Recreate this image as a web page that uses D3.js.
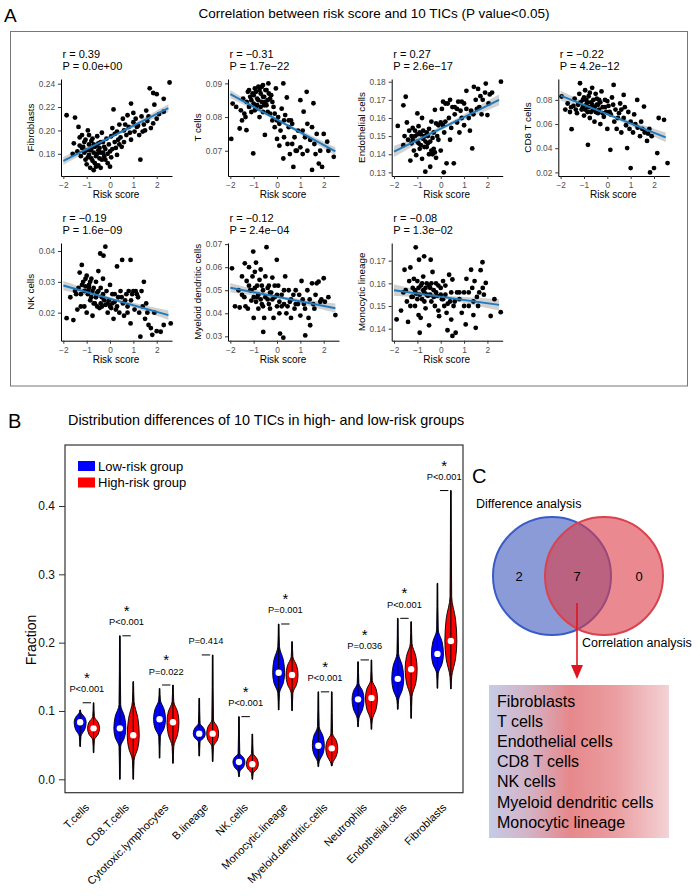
<!DOCTYPE html>
<html><head><meta charset="utf-8">
<script src="https://cdn.jsdelivr.net/npm/d3@7"></script>
<style>body{margin:0;background:#fff}svg{display:block}</style>
</head><body>
<script>
// ---------- DATA ----------
// Panel A: scatter points [risk score, fraction]
const fibroblastsPts = [[-1.86,0.213],[-1.55,0.189],[-1.5,0.211],[-1.4,0.182],[-1.35,0.203],[-1.3,0.194],[-1.25,0.178],[-1.2,0.196],[-1.15,0.186],[-1.1,0.190],[-1.05,0.175],[-1.0,0.183],[-1.0,0.171],[-0.95,0.200],[-0.9,0.179],[-0.9,0.188],[-0.85,0.168],[-0.8,0.184],[-0.8,0.176],[-0.75,0.193],[-0.7,0.166],[-0.7,0.181],[-0.65,0.172],[-0.6,0.187],[-0.6,0.178],[-0.55,0.195],[-0.5,0.170],[-0.5,0.183],[-0.45,0.176],[-0.4,0.190],[-0.4,0.168],[-0.35,0.198],[-0.3,0.181],[-0.25,0.186],[-0.2,0.175],[-0.15,0.193],[-0.1,0.180],[-0.05,0.188],[0.0,0.169],[0.05,0.195],[0.1,0.184],[0.1,0.202],[0.15,0.218],[0.2,0.190],[0.3,0.199],[0.3,0.179],[0.4,0.205],[0.45,0.194],[0.5,0.186],[0.55,0.210],[0.6,0.200],[0.7,0.196],[0.75,0.213],[0.8,0.203],[0.9,0.223],[0.9,0.192],[1.0,0.207],[1.05,0.199],[1.1,0.210],[1.2,0.204],[1.25,0.196],[1.3,0.175],[1.35,0.212],[1.45,0.205],[1.5,0.200],[1.55,0.217],[1.6,0.208],[1.7,0.236],[1.75,0.202],[1.85,0.232],[1.9,0.222],[2.0,0.231],[2.0,0.210],[2.1,0.214],[2.3,0.227],[2.3,0.216],[2.55,0.241],
 [-1.2,0.185],[-1.1,0.181],[-1.05,0.192],[-0.95,0.177],[-0.85,0.183],[-0.8,0.191],[-0.75,0.174],[-0.65,0.186],[-0.6,0.169],[-0.55,0.180],[-0.5,0.189],[-0.45,0.185],[-0.35,0.175],[-0.3,0.190],[-0.25,0.178],[-0.2,0.184],[-0.1,0.172],[0.0,0.182],[0.05,0.177],[0.2,0.197],[0.25,0.185],[0.35,0.192],[0.6,0.190],[0.65,0.205],[0.85,0.198],[1.0,0.215],[1.15,0.203],[1.4,0.199],[1.65,0.212],[1.85,0.206],[-1.6,0.180],[-1.3,0.187],[-0.9,0.196],[-0.7,0.188],[-0.4,0.181],[0.4,0.188]];
const tCellsPts = [[-1.96,0.0735],[-1.9,0.0840],[-1.75,0.0830],[-1.6,0.0766],[-1.55,0.0820],[-1.45,0.0855],[-1.4,0.0810],[-1.31,0.0761],[-1.3,0.0845],[-1.25,0.0875],[-1.2,0.0830],[-1.15,0.0860],[-1.1,0.0815],[-1.05,0.0870],[-1.02,0.0692],[-1.0,0.0840],[-0.95,0.0885],[-0.9,0.0825],[-0.85,0.0855],[-0.8,0.0890],[-0.75,0.0800],[-0.7,0.0870],[-0.65,0.0845],[-0.6,0.0895],[-0.6,0.0815],[-0.55,0.0860],[-0.52,0.0747],[-0.5,0.0880],[-0.45,0.0835],[-0.4,0.0850],[-0.37,0.0900],[-0.3,0.0810],[-0.25,0.0865],[-0.2,0.0790],[-0.15,0.0830],[-0.1,0.0770],[-0.05,0.0885],[0.0,0.0735],[0.05,0.0800],[0.1,0.0715],[0.15,0.0760],[0.2,0.0825],[0.27,0.0900],[0.27,0.0677],[0.3,0.0790],[0.35,0.0806],[0.42,0.0858],[0.45,0.0720],[0.5,0.0770],[0.55,0.0690],[0.6,0.0790],[0.65,0.0720],[0.7,0.0652],[0.75,0.0740],[0.8,0.0700],[0.9,0.0760],[1.0,0.0850],[1.0,0.0710],[1.1,0.0690],[1.14,0.0816],[1.2,0.0740],[1.27,0.0875],[1.3,0.0700],[1.42,0.0732],[1.5,0.0643],[1.5,0.0770],[1.56,0.0841],[1.6,0.0720],[1.7,0.0750],[1.79,0.0662],[1.85,0.0700],[1.93,0.0652],[2.0,0.0750],[2.15,0.0727],[2.43,0.0682],
 [-1.2,0.0880],[-1.1,0.0850],[-1.0,0.0865],[-0.95,0.0820],[-0.9,0.0875],[-0.85,0.0835],[-0.8,0.0850],[-0.75,0.0880],[-0.7,0.0830],[-0.65,0.0890],[-0.6,0.0860],[-0.55,0.0835],[-0.5,0.0845],[-0.45,0.0880],[-0.4,0.0815],[-0.35,0.0870],[-0.3,0.0855],[-0.2,0.0845],[-0.1,0.0810],[0.0,0.0790],[0.1,0.0780],[0.3,0.0740],[0.5,0.0790],[0.65,0.0780],[0.85,0.0700],[1.1,0.0760],[1.3,0.0780],[1.65,0.0690],[2.2,0.0700],[-1.35,0.0800],[-1.5,0.0790]];
const endothelialPts = [[-1.84,0.1556],[-1.6,0.1670],[-1.5,0.1717],[-1.45,0.1575],[-1.4,0.1480],[-1.35,0.1530],[-1.3,0.1365],[-1.25,0.1460],[-1.2,0.1545],[-1.15,0.1420],[-1.1,0.1500],[-1.05,0.1395],[-1.0,0.1625],[-1.0,0.1470],[-0.95,0.1555],[-0.9,0.1430],[-0.85,0.1510],[-0.8,0.1600],[-0.8,0.1375],[-0.75,0.1485],[-0.7,0.1440],[-0.66,0.1304],[-0.6,0.1520],[-0.55,0.1460],[-0.5,0.1400],[-0.45,0.1331],[-0.4,0.1580],[-0.35,0.1490],[-0.3,0.1430],[-0.25,0.1645],[-0.2,0.1380],[-0.15,0.1500],[-0.1,0.1560],[0.0,0.1575],[0.0,0.1420],[0.05,0.1650],[0.1,0.1690],[0.13,0.1300],[0.15,0.1520],[0.2,0.1580],[0.25,0.1350],[0.3,0.1680],[0.35,0.1600],[0.4,0.1480],[0.45,0.1545],[0.5,0.1660],[0.56,0.1350],[0.6,0.1620],[0.7,0.1575],[0.75,0.1690],[0.8,0.1520],[0.85,0.1640],[0.9,0.1600],[1.0,0.1680],[1.0,0.1560],[1.1,0.1650],[1.1,0.1750],[1.2,0.1600],[1.25,0.1530],[1.35,0.1432],[1.4,0.1620],[1.42,0.1772],[1.5,0.1700],[1.6,0.1760],[1.65,0.1660],[1.7,0.1720],[1.8,0.1700],[1.9,0.1740],[1.93,0.1790],[2.0,0.1616],[2.1,0.1730],[2.2,0.1740],[2.58,0.1800],
 [-1.25,0.1500],[-1.2,0.1480],[-1.1,0.1530],[-1.0,0.1510],[-0.95,0.1460],[-0.9,0.1520],[-0.85,0.1450],[-0.75,0.1530],[-0.7,0.1500],[-0.65,0.1470],[-0.6,0.1440],[-0.55,0.1500],[-0.5,0.1540],[-0.45,0.1470],[-0.4,0.1420],[-0.35,0.1400],[-0.3,0.1520],[-0.25,0.1410],[-0.2,0.1570],[-0.1,0.1480],[0.1,0.1560],[0.2,0.1680],[0.4,0.1700],[0.6,0.1660],[0.7,0.1650],[0.9,0.1690],[1.3,0.1640],[1.55,0.1650],[1.75,0.1620],[2.05,0.1680],[-1.6,0.1450],[-1.55,0.1500]];
const cd8Pts = [[-1.96,0.0828],[-1.8,0.0720],[-1.7,0.0770],[-1.6,0.0700],[-1.53,0.0558],[-1.45,0.0750],[-1.4,0.0810],[-1.3,0.0690],[-1.25,0.0760],[-1.2,0.0850],[-1.17,0.0938],[-1.1,0.0720],[-1.05,0.0800],[-1.0,0.0670],[-0.95,0.0880],[-0.9,0.0760],[-0.85,0.0700],[-0.83,0.0428],[-0.8,0.0830],[-0.75,0.0650],[-0.7,0.0780],[-0.65,0.0900],[-0.6,0.0720],[-0.55,0.0620],[-0.5,0.0850],[-0.45,0.0760],[-0.4,0.0690],[-0.35,0.0800],[-0.3,0.0600],[-0.25,0.0870],[-0.2,0.0740],[-0.15,0.0660],[-0.1,0.0800],[-0.05,0.0700],[0.0,0.0560],[0.05,0.0750],[0.13,0.0387],[0.15,0.0680],[0.2,0.0820],[0.27,0.0924],[0.3,0.0620],[0.35,0.0720],[0.4,0.0560],[0.5,0.0690],[0.55,0.0770],[0.6,0.0530],[0.7,0.0841],[0.7,0.0650],[0.8,0.0590],[0.85,0.0401],[0.9,0.0700],[1.0,0.0236],[1.0,0.0620],[1.1,0.0530],[1.15,0.0680],[1.28,0.0800],[1.3,0.0570],[1.4,0.0500],[1.45,0.0620],[1.57,0.0745],[1.6,0.0530],[1.7,0.0460],[1.8,0.0560],[1.83,0.0200],[1.9,0.0500],[2.0,0.0236],[2.14,0.0360],[2.2,0.0650],[2.43,0.0635],[2.58,0.0277],
 [-1.15,0.0780],[-1.05,0.0740],[-1.0,0.0820],[-0.95,0.0720],[-0.9,0.0800],[-0.85,0.0780],[-0.8,0.0740],[-0.75,0.0860],[-0.7,0.0700],[-0.65,0.0760],[-0.6,0.0800],[-0.55,0.0740],[-0.5,0.0700],[-0.45,0.0810],[-0.4,0.0760],[-0.35,0.0720],[-0.3,0.0780],[-0.2,0.0690],[-0.1,0.0740],[0.0,0.0790],[0.1,0.0700],[0.25,0.0760],[0.45,0.0650],[0.6,0.0720],[0.75,0.0740],[0.95,0.0560],[1.2,0.0600],[1.5,0.0560],[1.75,0.0520],[-1.35,0.0720],[-1.55,0.0740]];
const nkPts = [[-1.86,0.0182],[-1.7,0.0250],[-1.57,0.0176],[-1.5,0.0270],[-1.4,0.0210],[-1.35,0.0280],[-1.3,0.0330],[-1.25,0.0260],[-1.21,0.0355],[-1.15,0.0300],[-1.1,0.0220],[-1.05,0.0285],[-1.0,0.0320],[-1.0,0.0200],[-0.95,0.0270],[-0.9,0.0290],[-0.85,0.0240],[-0.8,0.0310],[-0.75,0.0190],[-0.7,0.0280],[-0.65,0.0230],[-0.6,0.0300],[-0.55,0.0265],[-0.5,0.0335],[-0.45,0.0215],[-0.42,0.0392],[-0.4,0.0280],[-0.35,0.0250],[-0.3,0.0310],[-0.28,0.0385],[-0.2,0.0414],[-0.2,0.0225],[-0.15,0.0270],[-0.1,0.0200],[-0.05,0.0240],[0.0,0.0290],[0.05,0.0215],[0.1,0.0260],[0.15,0.0180],[0.2,0.0235],[0.25,0.0210],[0.3,0.0350],[0.35,0.0250],[0.4,0.0200],[0.45,0.0270],[0.52,0.0371],[0.55,0.0230],[0.6,0.0190],[0.7,0.0260],[0.75,0.0220],[0.8,0.0270],[0.88,0.0371],[0.88,0.0165],[0.9,0.0240],[1.0,0.0270],[1.05,0.0210],[1.1,0.0270],[1.2,0.0250],[1.25,0.0200],[1.3,0.0122],[1.35,0.0270],[1.45,0.0300],[1.5,0.0180],[1.55,0.0230],[1.65,0.0160],[1.75,0.0150],[1.81,0.0128],[1.9,0.0200],[2.0,0.0140],[2.17,0.0138],[2.3,0.0160],[2.6,0.0165],
 [-1.2,0.0290],[-1.1,0.0270],[-1.05,0.0310],[-0.95,0.0260],[-0.9,0.0280],[-0.85,0.0300],[-0.8,0.0250],[-0.75,0.0270],[-0.7,0.0230],[-0.6,0.0250],[-0.55,0.0220],[-0.5,0.0270],[-0.4,0.0230],[-0.35,0.0220],[-0.3,0.0260],[-0.25,0.0240],[-0.1,0.0230],[0.0,0.0220],[0.1,0.0230],[0.2,0.0260],[0.3,0.0220],[0.5,0.0250],[0.65,0.0240],[0.95,0.0260],[1.15,0.0260],[1.4,0.0220],[1.6,0.0200],[-1.45,0.0260],[-1.25,0.0220],[0.75,0.0200]];
const myeloidPts = [[-1.93,0.0595],[-1.8,0.0430],[-1.65,0.0500],[-1.6,0.0425],[-1.5,0.0560],[-1.4,0.0470],[-1.38,0.0617],[-1.3,0.0540],[-1.25,0.0420],[-1.2,0.0600],[-1.15,0.0500],[-1.1,0.0455],[-1.05,0.0560],[-1.02,0.0668],[-1.0,0.0380],[-0.95,0.0510],[-0.9,0.0620],[-0.85,0.0470],[-0.8,0.0420],[-0.75,0.0545],[-0.7,0.0590],[-0.65,0.0440],[-0.6,0.0500],[-0.59,0.0319],[-0.55,0.0380],[-0.5,0.0560],[-0.45,0.0687],[-0.4,0.0460],[-0.35,0.0520],[-0.3,0.0420],[-0.25,0.0490],[-0.2,0.0555],[-0.15,0.0380],[-0.1,0.0470],[-0.01,0.0632],[0.0,0.0430],[0.05,0.0520],[0.1,0.0400],[0.13,0.0312],[0.2,0.0480],[0.27,0.0294],[0.3,0.0440],[0.35,0.0560],[0.4,0.0400],[0.5,0.0500],[0.55,0.0450],[0.6,0.0380],[0.7,0.0480],[0.75,0.0420],[0.8,0.0500],[0.9,0.0440],[1.0,0.0390],[1.05,0.0540],[1.1,0.0460],[1.2,0.0420],[1.21,0.0304],[1.3,0.0500],[1.35,0.0380],[1.42,0.0348],[1.5,0.0530],[1.55,0.0440],[1.65,0.0480],[1.7,0.0530],[1.78,0.0537],[1.85,0.0450],[2.0,0.0552],[2.05,0.0450],[2.2,0.0470],[2.5,0.0392],
 [-1.2,0.0520],[-1.1,0.0500],[-1.0,0.0470],[-0.9,0.0450],[-0.85,0.0520],[-0.8,0.0480],[-0.7,0.0460],[-0.65,0.0520],[-0.6,0.0430],[-0.5,0.0470],[-0.4,0.0510],[-0.35,0.0440],[-0.3,0.0490],[-0.2,0.0460],[-0.1,0.0520],[0.0,0.0480],[0.1,0.0450],[0.2,0.0430],[0.3,0.0500],[0.45,0.0430],[0.6,0.0460],[0.8,0.0440],[0.95,0.0480],[1.15,0.0440],[1.4,0.0460],[1.6,0.0420],[1.9,0.0460],[-1.5,0.0480],[-1.35,0.0430],[-0.95,0.0580]];
const monocyticPts = [[-1.89,0.1441],[-1.7,0.1480],[-1.6,0.1560],[-1.55,0.1660],[-1.45,0.1520],[-1.4,0.1430],[-1.35,0.1610],[-1.3,0.1670],[-1.25,0.1540],[-1.2,0.1580],[-1.15,0.1620],[-1.1,0.1500],[-1.07,0.1759],[-1.05,0.1555],[-1.0,0.1610],[-0.95,0.1460],[-0.93,0.1704],[-0.9,0.1382],[-0.86,0.1448],[-0.85,0.1590],[-0.8,0.1530],[-0.75,0.1630],[-0.71,0.1719],[-0.7,0.1560],[-0.65,0.1490],[-0.6,0.1600],[-0.55,0.1545],[-0.5,0.1415],[-0.45,0.1580],[-0.43,0.1704],[-0.4,0.1520],[-0.35,0.1650],[-0.3,0.1570],[-0.25,0.1500],[-0.2,0.1600],[-0.15,0.1545],[-0.1,0.1480],[-0.07,0.1455],[0.0,0.1580],[0.05,0.1530],[0.1,0.1610],[0.15,0.1500],[0.2,0.1550],[0.25,0.1470],[0.29,0.1393],[0.36,0.1638],[0.4,0.1520],[0.45,0.1440],[0.5,0.1368],[0.5,0.1617],[0.55,0.1500],[0.64,0.1382],[0.7,0.1560],[0.8,0.1530],[0.9,0.1470],[1.0,0.1560],[1.07,0.1419],[1.1,0.1620],[1.2,0.1500],[1.3,0.1660],[1.35,0.1580],[1.4,0.1460],[1.45,0.1610],[1.5,0.1404],[1.55,0.1540],[1.65,0.1560],[1.71,0.1658],[1.79,0.1693],[1.85,0.1550],[1.93,0.1602],[2.14,0.1456],[2.3,0.1530],[2.57,0.1473],
 [-1.2,0.1540],[-1.1,0.1570],[-1.0,0.1530],[-0.95,0.1580],[-0.9,0.1550],[-0.8,0.1600],[-0.75,0.1570],[-0.7,0.1520],[-0.65,0.1580],[-0.6,0.1550],[-0.5,0.1590],[-0.45,0.1550],[-0.4,0.1600],[-0.3,0.1540],[-0.2,0.1560],[-0.1,0.1590],[0.0,0.1550],[0.1,0.1530],[0.2,0.1590],[0.3,0.1510],[0.45,0.1560],[0.6,0.1520],[0.8,0.1560],[1.0,0.1500],[1.2,0.1560],[1.4,0.1520],[1.6,0.1500],[-1.5,0.1570],[-1.3,0.1500],[1.8,0.1580]];

const scatterNames = ["Fibroblasts","T cells","Endothelial cells","CD8 T cells","NK cells","Myeloid dendritic cells","Monocytic lineage"];
const scatterData = [fibroblastsPts, tCellsPts, endothelialPts, cd8Pts, nkPts, myeloidPts, monocyticPts];
const rValues = ["0.39","\u22120.31","0.27","\u22120.22","\u22120.19","\u22120.12","\u22120.08"];
const pValues = ["0.0e+00","1.7e\u221222","2.6e\u221217","4.2e\u221212","1.6e\u221209","2.4e\u221204","1.3e\u221202"];
const yDomains = [[0.161,0.244],[0.0625,0.0913],[0.128,0.1815],[0.017,0.0973],[0.0109,0.0426],[0.0281,0.0705],[0.1347,0.1778]];
const yTickVals = [[0.18,0.20,0.22,0.24],[0.07,0.08,0.09],[0.13,0.14,0.15,0.16,0.17,0.18],[0.02,0.04,0.06,0.08],[0.02,0.03,0.04],[0.03,0.04,0.05,0.06,0.07],[0.14,0.15,0.16,0.17]];
const xTickVals = [-2,-1,0,1,2];
// fitted line values at risk = -2 and 2.5, and CI half-width at the ends
const fitStart = [0.174,0.0868,0.1415,0.0835,0.0288,0.0511,0.157];
const fitEnd = [0.219,0.0698,0.170,0.049,0.0192,0.0422,0.1505];
const fitBand = [0.0035,0.0012,0.003,0.004,0.0015,0.002,0.0025];

// Panel B: violin summaries [min, bodyLow, median, bodyHigh, max]
const categories = ["T.cells","CD8.T.cells","Cytotoxic.lymphocytes","B.lineage","NK.cells","Monocytic.lineage","Myeloid.dendritic.cells","Neutrophils","Endothelial.cells","Fibroblasts"];
const lowRisk = [[0.048,0.063,0.0834,0.0976,0.1015],[0.0,0.048,0.0746,0.109,0.21],[0.031,0.0624,0.0878,0.116,0.133],[0.034,0.055,0.0668,0.082,0.1185],[0.0039,0.0112,0.0254,0.038,0.0917],[0.1015,0.126,0.156,0.194,0.2273],[0.0185,0.0258,0.0492,0.077,0.128],[0.077,0.089,0.117,0.1405,0.172],[0.1024,0.116,0.147,0.184,0.2356],[0.1333,0.155,0.1835,0.2185,0.2868]];
const highRisk = [[0.039,0.0576,0.0746,0.0917,0.112],[0.0,0.028,0.0644,0.1137,0.143],[0.0234,0.048,0.0834,0.1137,0.138],[0.0259,0.048,0.0668,0.0868,0.182],[0.0,0.0088,0.022,0.038,0.0663],[0.1005,0.126,0.1527,0.1795,0.2015],[0.0195,0.0234,0.0453,0.067,0.128],[0.0731,0.0868,0.119,0.145,0.1747],[0.0892,0.121,0.161,0.199,0.2307],[0.1323,0.150,0.2024,0.267,0.4226]];
const pLabels = ["P<0.001","P<0.001","P=0.022","P=0.414","P<0.001","P=0.001","P<0.001","P=0.036","P<0.001","P<0.001"];
const significant = [true,true,true,false,true,true,true,true,true,true];
const fractionTicks = [0.0,0.1,0.2,0.3,0.4];
const groupNames = ["Low-risk group","High-risk group"];

// Panel C
const vennCounts = [2,7,0];
const vennSets = ["Difference analysis","Correlation analysis"];
const overlapCells = ["Fibroblasts","T cells","Endothelial cells","CD8 T cells","NK cells","Myeloid dendritic cells","Monocytic lineage"];

// ---------- DRAW ----------
const FONT = "'Liberation Sans', Arial, Helvetica, sans-serif";
const svg = d3.select("body").append("svg").attr("width",700).attr("height",896)
  .style("font-family",FONT);

// ---- Panel A ----
svg.append("text").attr("x",4).attr("y",22).attr("font-size",19).text("A");
svg.append("text").attr("x",374).attr("y",18).attr("text-anchor","middle")
  .attr("font-size",13.5).text("Correlation between risk score and 10 TICs (P value<0.05)");
svg.append("rect").attr("x",10.5).attr("y",31.5).attr("width",677).attr("height",354.5)
  .attr("fill","none").attr("stroke","#777").attr("stroke-width",1);

const colX = [61,228,391.7,558.3];
const rowTop = [79,243], rowBot = [176,340.7];
scatterData.forEach((pts,i)=>{
  const col = i<4 ? i : i-4, row = i<4 ? 0 : 1;
  const x0 = colX[col], top = rowTop[row], bot = rowBot[row];
  const x = d3.scaleLinear().domain([-2.1,2.655]).range([x0,x0+111]);
  const y = d3.scaleLinear().domain(yDomains[i]).range([bot,top]);
  const g = svg.append("g");
  // CI band
  const xs = d3.range(-2,2.5001,0.1);
  const slope = (fitEnd[i]-fitStart[i])/4.5;
  const fit = v => fitStart[i] + slope*(v+2);
  const hw = v => fitBand[i]*(0.3+0.7*Math.abs(v-0.25)/2.25);
  g.append("path").datum(xs)
    .attr("d", d3.area().x(v=>x(v)).y0(v=>y(fit(v)-hw(v))).y1(v=>y(fit(v)+hw(v))))
    .attr("fill","#bdbdbd").attr("opacity",0.7);
  g.selectAll("circle").data(pts).join("circle")
    .attr("cx",d=>x(d[0])).attr("cy",d=>y(d[1])).attr("r",2.4).attr("fill","#000");
  g.append("line").attr("x1",x(-2)).attr("x2",x(2.5)).attr("y1",y(fitStart[i])).attr("y2",y(fitEnd[i]))
    .attr("stroke","#1f7bbf").attr("stroke-width",2);
  // axes
  const ax = g.append("g").attr("transform",`translate(0,${bot})`)
    .call(d3.axisBottom(x).tickValues(xTickVals).tickSize(3).tickSizeOuter(0).tickFormat(d3.format("d")));
  const ay = g.append("g").attr("transform",`translate(${x0},0)`)
    .call(d3.axisLeft(y).tickValues(yTickVals[i]).tickSize(3).tickSizeOuter(0).tickFormat(d3.format(".2f")));
  [ax,ay].forEach(a=>{
    a.select(".domain").attr("stroke","#000").attr("stroke-width",1);
    a.selectAll(".tick line").attr("stroke","#333");
    a.selectAll(".tick text").attr("fill","#4d4d4d").attr("font-size",8.3).attr("font-family",FONT);
  });
  g.append("text").attr("x",x0+55).attr("y",bot+22).attr("text-anchor","middle").attr("font-size",10).text("Risk score");
  g.append("text").attr("transform",`translate(${x0-27},${(top+bot)/2}) rotate(-90)`)
    .attr("text-anchor","middle").attr("font-size",9.8).text(scatterNames[i]);
  g.append("text").attr("x",x0+1.5).attr("y",top-21.5).attr("font-size",11).text("r = "+rValues[i]);
  g.append("text").attr("x",x0+1.5).attr("y",top-9.5).attr("font-size",11).text("P = "+pValues[i]);
});

// ---- Panel B ----
svg.append("text").attr("x",8).attr("y",428).attr("font-size",20).text("B");
svg.append("text").attr("x",68).attr("y",425).attr("font-size",14.4).text("Distribution differences of 10 TICs in high- and low-risk groups");
const bx0 = 65, bx1 = 463, by0 = 445, by1 = 792.7;
svg.append("rect").attr("x",bx0).attr("y",by0).attr("width",bx1-bx0).attr("height",by1-by0)
  .attr("fill","none").attr("stroke","#333").attr("stroke-width",1.2);
const yB = d3.scaleLinear().domain([0,0.4]).range([779.3,506]);
const xB = d3.scaleBand().domain(categories).range([67,464]).padding(0);
const ayB = svg.append("g").attr("transform",`translate(${bx0},0)`)
  .call(d3.axisLeft(yB).tickValues(fractionTicks).tickSize(6).tickSizeOuter(0).tickFormat(d3.format(".1f")));
ayB.select(".domain").remove();
ayB.selectAll(".tick line").attr("stroke","#333");
ayB.selectAll(".tick text").attr("font-size",12).attr("fill","#111").attr("x",-10);
svg.append("text").attr("transform","translate(36,640) rotate(-90)").attr("text-anchor","middle")
  .attr("font-size",14).text("Fraction");

// legend
[["#0000ff",groupNames[0]],["#ff0000",groupNames[1]]].forEach((d,k)=>{
  svg.append("rect").attr("x",78).attr("y",461+k*16.5).attr("width",17).attr("height",10).attr("fill",d[0]);
  svg.append("text").attr("x",98).attr("y",470.5+k*16.5).attr("font-size",13).text(d[1]);
});

const violin = (stats, cx, hwMax, color) => {
  const [mn, lo, med, hi, mx] = stats;
  const st = [[mn,0.3],[lo,0.14*hwMax],[(lo+med)/2,0.78*hwMax],[med,hwMax],[(med+hi)/2,0.78*hwMax],[hi,0.14*hwMax],[mx,0.3]];
  const g = svg.append("g");
  g.append("path").datum(st)
    .attr("d", d3.area().curve(d3.curveMonotoneY).y(d=>yB(d[0])).x0(d=>cx-d[1]).x1(d=>cx+d[1]))
    .attr("fill",color).attr("stroke","#000").attr("stroke-width",0.9);
  g.append("line").attr("x1",cx).attr("x2",cx).attr("y1",yB(mn)).attr("y2",yB(mx))
    .attr("stroke","#000").attr("stroke-width",1.1);
  g.append("circle").attr("cx",cx).attr("cy",yB(med)).attr("r",3.2).attr("fill","#fff");
};
categories.forEach((c,i)=>{
  const cx = xB(c)+xB.bandwidth()/2;
  const cl = cx-6.7, ch = cx+6.7;
  violin(lowRisk[i], cl, 6, "#0000ff");
  violin(highRisk[i], ch, 6, "#ff0000");
  const top = Math.max(lowRisk[i][4], highRisk[i][4]);
  const ty = yB(top);
  svg.append("line").attr("x1",cl+2.5).attr("x2",ch-2.5).attr("y1",ty).attr("y2",ty)
    .attr("stroke","#000").attr("stroke-width",1);
  svg.append("text").attr("x",cx).attr("y",ty-10.5).attr("text-anchor","middle")
    .attr("font-size",9.3).text(pLabels[i]);
  if (significant[i]) svg.append("text").attr("x",cx).attr("y",ty-20).attr("text-anchor","middle")
    .attr("font-size",15).text("*");
  svg.append("text").attr("transform",`translate(${cx+3},${808}) rotate(-45)`)
    .attr("text-anchor","end").attr("font-size",11).text(c);
});

// ---- Panel C ----
svg.append("text").attr("x",472).attr("y",483).attr("font-size",20).text("C");
svg.append("text").attr("x",476).attr("y",508).attr("font-size",12.5).text(vennSets[0]);
const defs = svg.append("defs");
const grad = defs.append("linearGradient").attr("id","boxgrad").attr("x1","0").attr("x2","1").attr("y1","0").attr("y2","0");
[[0,"#c6cbe6"],[0.22,"#d3b3c6"],[0.45,"#e6888b"],[0.7,"#eb9da0"],[1,"#f3d2d5"]].forEach(s=>
  grad.append("stop").attr("offset",s[0]).attr("stop-color",s[1]));
svg.append("circle").attr("cx",552).attr("cy",576).attr("r",59)
  .attr("fill","#3c58bc").attr("fill-opacity",0.6).attr("stroke","#3a5cc8").attr("stroke-width",2);
svg.append("circle").attr("cx",604).attr("cy",576).attr("r",59)
  .attr("fill","#dc3c46").attr("fill-opacity",0.6).attr("stroke","#d9434e").attr("stroke-width",2);
[519,577,639].forEach((xx,k)=>svg.append("text").attr("x",xx).attr("y",581).attr("text-anchor","middle")
  .attr("font-size",13).text(vennCounts[k]));
svg.append("line").attr("x1",577).attr("x2",577).attr("y1",603).attr("y2",668)
  .attr("stroke","#e0141e").attr("stroke-width",1.6);
svg.append("path").attr("d","M571,665 L583,665 L577,679 Z").attr("fill","#e0141e");
svg.append("text").attr("x",582).attr("y",647).attr("font-size",12.5).text(vennSets[1]);
svg.append("rect").attr("x",489).attr("y",685).attr("width",180).attr("height",153).attr("fill","url(#boxgrad)");
overlapCells.forEach((t,k)=>svg.append("text").attr("x",497).attr("y",707+k*20.1)
  .attr("font-size",16).text(t));
</script>
</body></html>
